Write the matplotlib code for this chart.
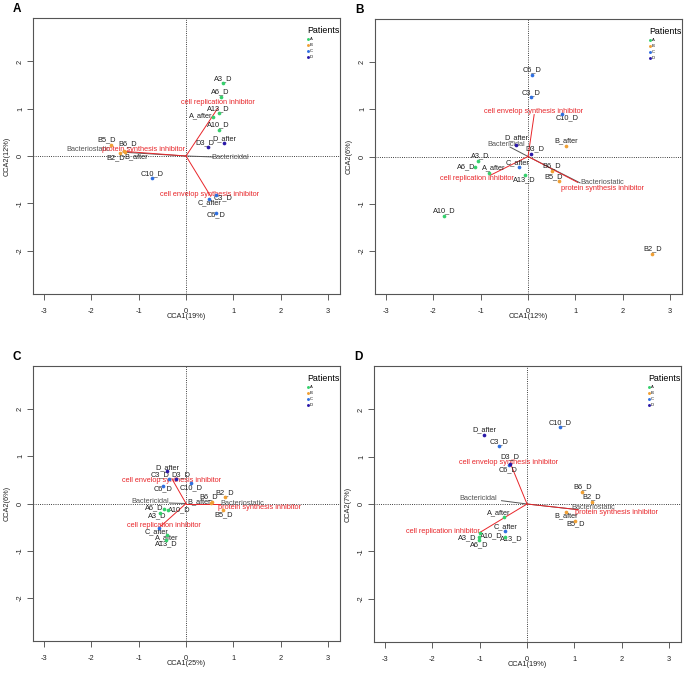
import matplotlib.pyplot as plt
import numpy as np

plt.rcParams['font.family'] = ['Liberation Sans', 'DejaVu Sans']
plt.rcParams['axes.unicode_minus'] = False

# Sample names (same order in every panel)
sites = ['A3_D', 'A6_D', 'A10_D', 'A13_D', 'A_after',
         'B2_D', 'B5_D', 'B6_D', 'B_after',
         'C3_D', 'C6_D', 'C10_D', 'C_after',
         'D3_D', 'D_after']
patients = ['A', 'B', 'C', 'D']
patient_colors = {'A': '#35d06c', 'B': '#f0a035', 'C': '#2f6fe0', 'D': '#2a18a8'}

panel_letters = ['A', 'B', 'C', 'D']
cca1_pct = [19, 12, 25, 19]
cca2_pct = [12, 6, 6, 7]

# site scores (points) and label positions, per panel
site_x = {
    'A': [0.78, 0.73, 0.69, 0.69, 0.56, -1.40, -1.59, -1.32, -1.30, 0.63, 0.63, -0.71, 0.49, 0.47, 0.80],
    'B': [-1.05, -1.13, -1.77, -0.06, -0.83, 2.63, 0.65, 0.51, 0.80, 0.07, 0.08, 0.72, -0.20, 0.07, -0.25],
    'C': [-0.56, -0.47, -0.39, -0.42, -0.40, 0.82, 0.79, 0.55, 0.53, -0.37, -0.49, 0.10, -0.58, -0.22, -0.40],
    'D': [-1.02, -1.01, -0.99, -0.46, -0.48, 1.37, 1.02, 1.17, 0.82, -0.60, -0.38, 0.69, -0.47, -0.36, -0.91],
}
site_y = {
    'A': [1.54, 1.24, 0.56, 0.90, 0.83, 0.07, 0.23, 0.11, 0.08, -0.83, -1.20, -0.47, -0.92, 0.18, 0.27],
    'B': [-0.10, -0.23, -1.26, -0.39, -0.34, -2.07, -0.51, -0.30, 0.23, 1.26, 1.74, 0.91, -0.23, 0.06, 0.25],
    'C': [-0.21, -0.11, -0.13, -0.78, -0.66, 0.13, -0.13, 0.04, 0.02, 0.52, 0.37, 0.44, -0.51, 0.53, 0.68],
    'D': [-0.70, -0.76, -0.61, -0.69, -0.28, 0.05, -0.35, 0.26, -0.17, 1.23, 0.83, 1.62, -0.57, 0.84, 1.47],
}
label_x = {
    'A': [0.78, 0.73, 0.68, 0.69, 0.32, -1.48, -1.68, -1.24, -1.06, 0.78, 0.63, -0.71, 0.49, 0.39, 0.81],
    'B': [-1.01, -1.31, -1.77, -0.07, -0.72, 2.64, 0.55, 0.51, 0.80, 0.07, 0.08, 0.82, -0.23, 0.15, -0.25],
    'C': [-0.60, -0.67, -0.14, -0.42, -0.40, 0.82, 0.80, 0.47, 0.27, -0.55, -0.49, 0.10, -0.62, -0.11, -0.40],
    'D': [-1.26, -1.00, -0.76, -0.33, -0.59, 1.37, 1.02, 1.17, 0.82, -0.60, -0.40, 0.69, -0.46, -0.36, -0.91],
}
label_y = {
    'A': [1.64, 1.35, 0.67, 1.01, 0.85, -0.04, 0.34, 0.25, -0.01, -0.89, -1.25, -0.37, -1.00, 0.28, 0.36],
    'B': [0.01, -0.22, -1.15, -0.49, -0.24, -1.97, -0.42, -0.20, 0.33, 1.36, 1.85, 0.82, -0.13, 0.16, 0.39],
    'C': [-0.27, -0.08, -0.13, -0.86, -0.72, 0.23, -0.23, 0.14, 0.03, 0.60, 0.31, 0.34, -0.59, 0.60, 0.76],
    'D': [-0.72, -0.86, -0.67, -0.74, -0.18, 0.15, -0.41, 0.36, -0.24, 1.32, 0.73, 1.72, -0.48, 0.99, 1.57],
}

# drug-mechanism vectors (red)
mechanisms = ['cell replication inhibitor', 'cell envelop synthesis inhibitor', 'protein synthesis inhibitor']
mech_end_x = {'A': [0.67, 0.52, -1.33], 'B': [-0.80, 0.13, 1.05], 'C': [-0.53, -0.29, 0.72], 'D': [-1.01, -0.34, 1.08]}
mech_end_y = {'A': [1.01, -0.85, 0.10], 'B': [-0.40, 0.89, -0.55], 'C': [-0.48, 0.51, 0.00], 'D': [-0.61, 0.83, -0.12]}
mech_lab_x = {'A': [0.68, 0.49, -0.89], 'B': [-1.07, 0.12, 1.58], 'C': [-0.47, -0.30, 1.56], 'D': [-1.77, -0.40, 1.90]}
mech_lab_y = {'A': [1.13, -0.82, 0.14], 'B': [-0.47, 0.95, -0.69], 'C': [-0.46, 0.49, -0.08], 'D': [-0.58, 0.87, -0.17]}

# drug-class centroids (grey)
classes = ['Bacteriostatic', 'Bactericidal']
class_end_x = {'A': [-1.33, 0.58], 'B': [1.10, -0.38], 'C': [0.72, -0.35], 'D': [1.08, -0.54]}
class_end_y = {'A': [0.08, -0.02], 'B': [-0.56, 0.20], 'C': [0.00, 0.01], 'D': [-0.12, 0.07]}
class_lab_x = {'A': [-2.07, 0.94], 'B': [1.56, -0.46], 'C': [1.18, -0.75], 'D': [1.40, -1.04]}
class_lab_y = {'A': [0.13, -0.03], 'B': [-0.56, 0.25], 'C': [0.01, 0.05], 'D': [-0.08, 0.11]}

red = '#e8262a'
grey = '#555555'
fs = 5.3

fig = plt.figure(figsize=(6.86, 6.76), dpi=100)
W, H = 686, 676
boxes = [(33, 18, 340, 294), (375, 19, 682, 294), (33, 366, 340, 641), (374, 366, 681, 642)]

for p, (x0, y0, x1, y1) in zip(panel_letters, boxes):
    ax = fig.add_axes([x0 / W, 1 - y1 / H, (x1 - x0) / W, (y1 - y0) / H])
    ax.axhline(0, color='black', ls=':', lw=0.6, zorder=1)
    ax.axvline(0, color='black', ls=':', lw=0.6, zorder=1)

    # grey class lines
    for i, c in enumerate(classes):
        ax.plot([0, class_end_x[p][i]], [0, class_end_y[p][i]], color=grey, lw=0.7, zorder=2)
        ax.text(class_lab_x[p][i], class_lab_y[p][i], c, color=grey, fontsize=fs,
                ha='center', va='center', zorder=3)

    # red mechanism lines
    for i, m in enumerate(mechanisms):
        ax.plot([0, mech_end_x[p][i]], [0, mech_end_y[p][i]], color=red, lw=0.7, zorder=2)
        ax.text(mech_lab_x[p][i], mech_lab_y[p][i], m, color=red, fontsize=fs,
                ha='center', va='center', zorder=4)

    # sites
    sx = np.array(site_x[p])
    sy = np.array(site_y[p])
    groups = np.array([s[0] for s in sites])
    for g in patients:
        mask = groups == g
        ax.scatter(sx[mask], sy[mask], s=7, color=patient_colors[g], label=g,
                   linewidths=0, zorder=5)
    for i, s in enumerate(sites):
        ax.text(label_x[p][i], label_y[p][i], s, color='#222222', fontsize=fs,
                ha='center', va='center', zorder=4)

    ax.set_xlim(-3.235, 3.255)
    ax.set_ylim(-2.92, 2.92)
    ax.set_xticks([-3, -2, -1, 0, 1, 2, 3])
    ax.set_yticks([-2, -1, 0, 1, 2])
    ax.tick_params(direction='out', length=4, width=0.6, color='#444444',
                   labelsize=fs, pad=6, labelcolor='#222222')
    ax.tick_params(axis='y', pad=2.5)
    for lab in ax.get_yticklabels():
        lab.set_rotation(90)
        lab.set_va('center')
    for sp in ax.spines.values():
        sp.set_color('#555555')
        sp.set_linewidth(0.8)

    i = panel_letters.index(p)
    ax.text(0.5, -0.083, 'CCA1(%d%%)' % cca1_pct[i], transform=ax.transAxes,
            fontsize=fs, ha='center', va='center', color='#222222')
    ax.text(-0.085, 0.5, 'CCA2(%d%%)' % cca2_pct[i], transform=ax.transAxes,
            fontsize=fs, ha='center', va='center', rotation=90, color='#222222')
    fig.text((x0 - 16) / W, 1 - (y0 - 9) / H, p, fontsize=8.5, fontweight='bold',
             ha='center', va='center')

    ax.legend(loc='upper right', bbox_to_anchor=(1.0, 0.975), title='Patients',
              fontsize=3, title_fontsize=6.4, frameon=False, handletextpad=0.1,
              labelspacing=0.5, handlelength=0.6, borderaxespad=0.0, borderpad=0.2,
              alignment='left', markerscale=0.8)

fig.savefig('out.png', dpi=100)
